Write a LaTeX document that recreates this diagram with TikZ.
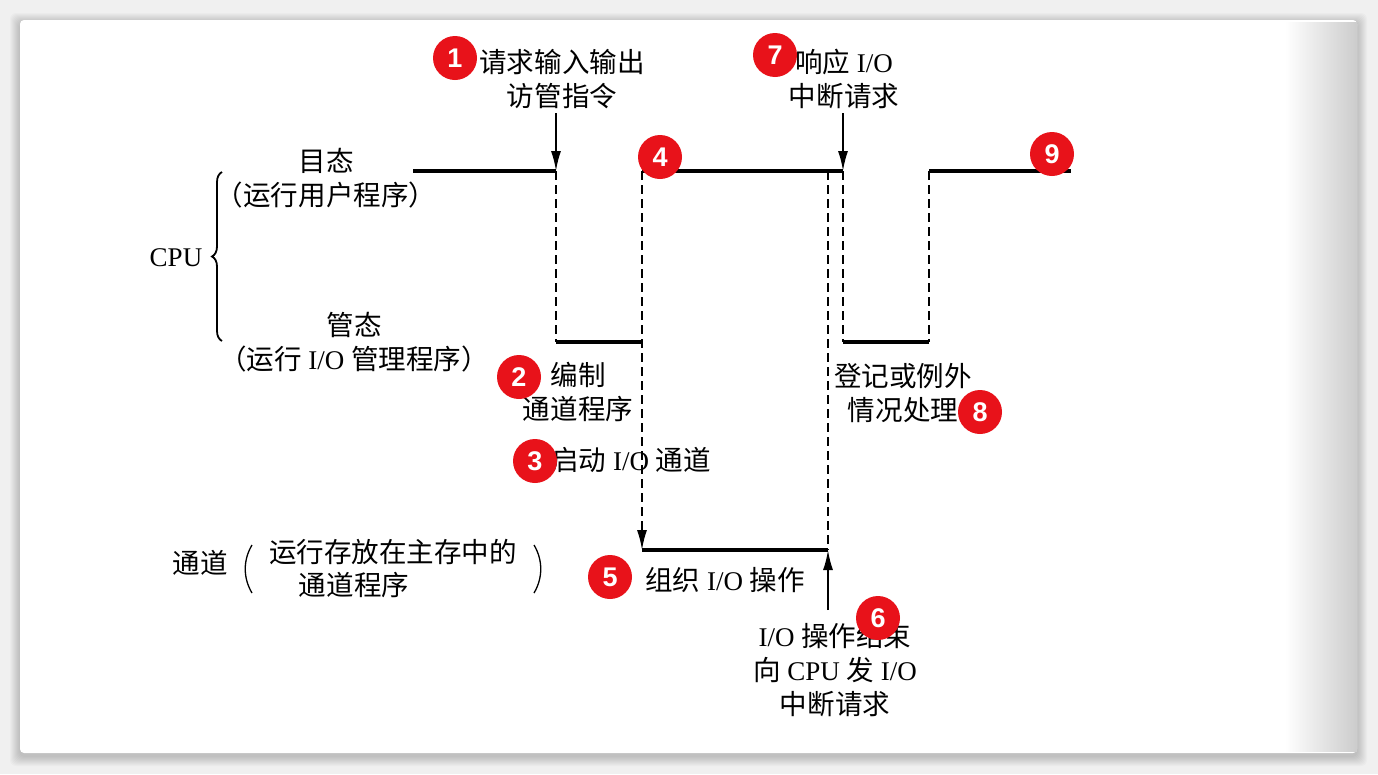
\documentclass[tikz,border=0pt]{standalone}
\usepackage{fontspec}
\setmainfont{Liberation Serif}
\newfontfamily\cjk[Scale=1.02]{Noto Sans CJK SC}
\newfontfamily\badgefont{Liberation Sans}
\usetikzlibrary{arrows.meta,decorations.pathreplacing}
\newcommand\zhs[1]{{\cjk #1}}
\definecolor{badgered}{RGB}{232,18,26}
\definecolor{pagebg}{RGB}{240,240,240}
\begin{document}
\begin{tikzpicture}[x=1pt,y=-1pt,
  txt/.style={font=\fontsize{27}{34}\selectfont, inner sep=0pt, align=center},
  badge/.style={circle, fill=badgered, minimum size=44pt, inner sep=0pt, text=white,
    font=\badgefont\bfseries\fontsize{27}{27}\selectfont},
  wave/.style={line width=3.4pt},
  dsh/.style={line width=1.8pt, dash pattern=on 9pt off 5pt},
  arr/.style={-{Latex[length=20pt,width=10pt]}}
]
% background and card
\fill[pagebg] (0,0) rectangle (1378,774);
\useasboundingbox (0,0) rectangle (1378,774);
\foreach \s in {1,...,10}{
  \fill[black,opacity=0.02,rounded corners=6pt] (20-\s,20-\s+3) rectangle (1357+\s,753+\s+3);
}
\fill[white,rounded corners=4pt] (20,20) rectangle (1357,753);
\shade[left color=white,right color=black!20] (1285,22) rectangle (1357,751);

% waveform coordinates
\coordinate (u0) at (413,171);
\coordinate (u1) at (556,171);
\coordinate (l1) at (556,342);
\coordinate (l2) at (642,342);
\coordinate (u2) at (642,171);
\coordinate (u3) at (843,171);
\coordinate (l3) at (843,342);
\coordinate (l4) at (929,342);
\coordinate (u4) at (929,171);
\coordinate (u5) at (1071,171);
\coordinate (c1) at (642,550);
\coordinate (c2) at (828,550);
\coordinate (c0) at (828,171);
\coordinate (a1) at (556,113);
\coordinate (a7) at (843,113);
\coordinate (a6) at (828,610);

% solid levels
\draw[wave] (u0) -- (u1);
\draw[wave] (l1) -- (l2);
\draw[wave] (u2) -- (u3);
\draw[wave] (l3) -- (l4);
\draw[wave] (u4) -- (u5);
\draw[wave] (c1) -- (c2);
% dashed transitions
\draw[dsh] (u1) -- (l1);
\draw[dsh,arr] (u2) -- (c1);
\draw[dsh] (c0) -- (c2);
\draw[dsh] (u3) -- (l3);
\draw[dsh] (u4) -- (l4);
% event arrows
\draw[line width=1.8pt,arr] (a1) -- (u1);
\draw[line width=1.8pt,arr] (a7) -- (u3);
\draw[line width=1.8pt,arr] (a6) -- (c2);

% left labels
\node[txt] (cpu) at (176,258) {CPU};
\draw[line width=1.8pt,decorate,decoration={brace,amplitude=10pt}] (222,341) -- (222,172);
\node[txt] (mu) at (326,178) {\zhs{目态}\\\zhs{（运行用户程序）}};
\node[txt] (gu) at (354,342) {\zhs{管态}\\\zhs{（运行} I/O \zhs{管理程序）}};

% channel label
\node[txt] (ch) at (200,563) {\zhs{通道}};
\draw[line width=1.3pt] (252,545) .. controls (243,560) and (243,578) .. (252,593);
\node[txt] (ch1) at (393,552) {\zhs{运行存放在主存中的}};
\node[txt] (ch2) at (354,585) {\zhs{通道程序}};
\draw[line width=1.3pt] (534,545) .. controls (543,560) and (543,578) .. (534,593);

% event labels
\node[txt] (t1) at (562,79) {\zhs{请求输入输出}\\\zhs{访管指令}};
\node[txt] (t7) at (844,79) {\zhs{响应} I/O\\\zhs{中断请求}};
\node[txt] (t2) at (578,392) {\zhs{编制}\\\zhs{通道程序}};
\node[txt] (t3) at (631,460) {\zhs{启动} I/O \zhs{通道}};
\node[txt] (t8) at (903,393) {\zhs{登记或例外}\\\zhs{情况处理}};
\node[txt] (t5) at (725,580) {\zhs{组织} I/O \zhs{操作}};
\node[txt] (t6) at (835,670) {I/O \zhs{操作结束}\\\zhs{向} CPU \zhs{发} I/O\\\zhs{中断请求}};

% badges
\node[badge] (b1) at (455,58) {1};
\node[badge] (b7) at (775,55) {7};
\node[badge] (b4) at (660,157) {4};
\node[badge] (b9) at (1052,154) {9};
\node[badge] (b2) at (519,377) {2};
\node[badge] (b3) at (535,461) {3};
\node[badge] (b8) at (980,412) {8};
\node[badge] (b5) at (610,577) {5};
\node[badge] (b6) at (878,618) {6};
\end{tikzpicture}
\end{document}
